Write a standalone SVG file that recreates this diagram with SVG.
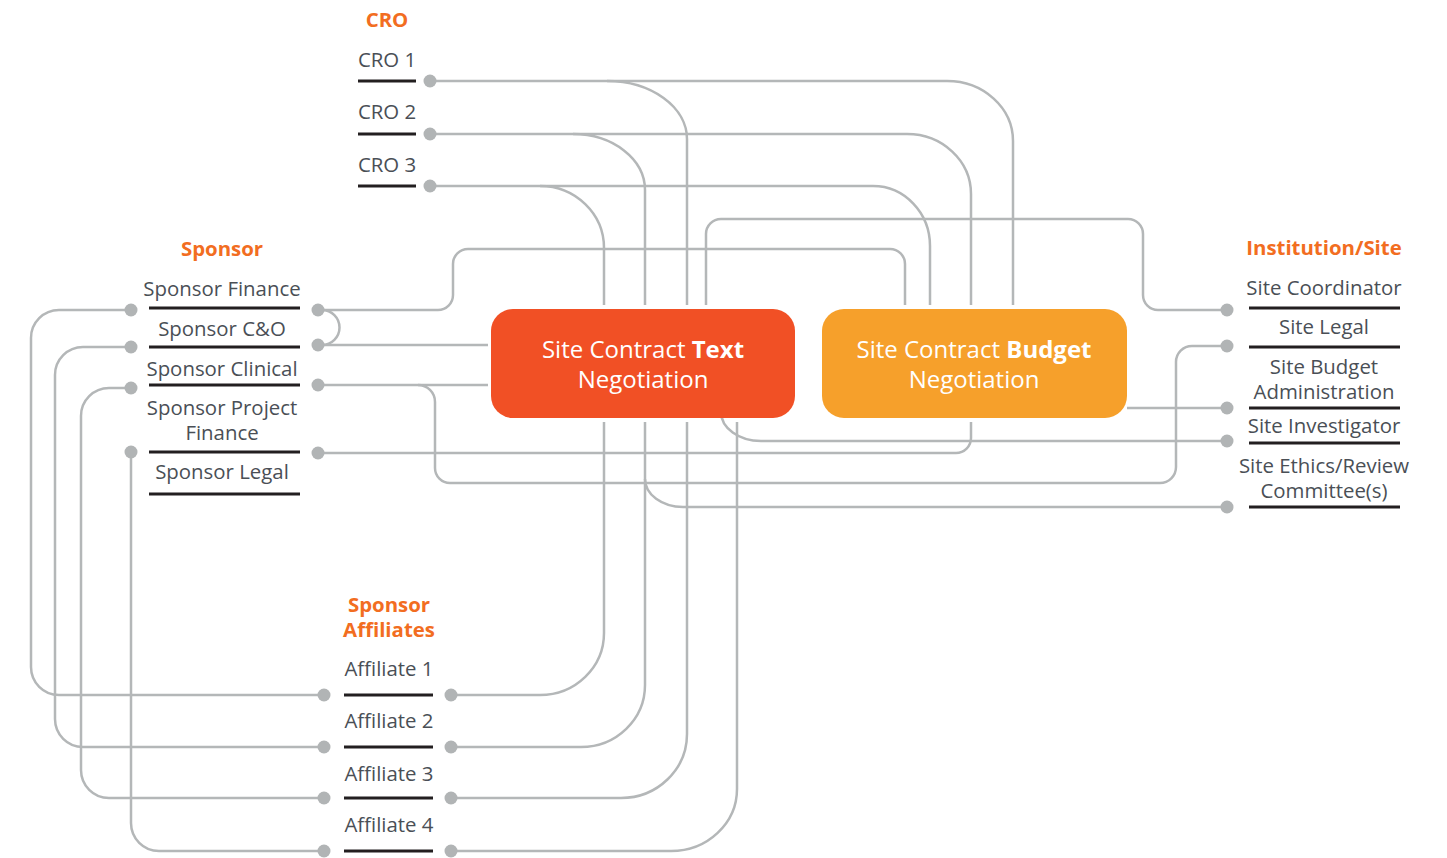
<svg xmlns="http://www.w3.org/2000/svg" width="1447" height="858" viewBox="0 0 1447 858">
<style>
.c{fill:none;stroke:#B4B7B8;stroke-width:2.5}
.d{fill:#B1B4B5}
.u{stroke:#231F20;stroke-width:3}
.t{font-family:"Open Sans","Liberation Sans",sans-serif;font-size:20.4px;fill:#4A4F56;text-anchor:middle}
.h{font-family:"Open Sans","Liberation Sans",sans-serif;font-size:20.4px;font-weight:bold;fill:#F26D21;text-anchor:middle}
.b{font-family:"Open Sans","Liberation Sans",sans-serif;font-size:24px;fill:#FFFFFF;text-anchor:middle}
</style>
<rect width="1447" height="858" fill="#FFFFFF"/>
<g id="connectors">
<path class="c" d="M430,81 H947 A66,60 0 0 1 1013,141 V305"/>
<path class="c" d="M607,81 A80,58 0 0 1 687,139 V305"/>
<path class="c" d="M430,134 H907 A64,60 0 0 1 971,194 V305"/>
<path class="c" d="M573,134 A72,56 0 0 1 645,190 V305"/>
<path class="c" d="M430,186 H873 A57,60 0 0 1 930,246 V305"/>
<path class="c" d="M540,186 A64,62 0 0 1 604,248 V305"/>
<path class="c" d="M706,305 V234 A15,15 0 0 1 721,219 H1128 A15,15 0 0 1 1143,234 V295 A15,15 0 0 0 1158,310 H1227"/>
<path class="c" d="M318,310 H438 A15,15 0 0 0 453,295 V264 A15,15 0 0 1 468,249 H890 A15,15 0 0 1 905,264 V305"/>
<path class="c" d="M318,310 H322 A17.5,17.5 0 0 1 322,345"/>
<path class="c" d="M318,345 H488"/>
<path class="c" d="M318,385 H488"/>
<path class="c" d="M418,385 A17,17 0 0 1 435,402 V468 A15,15 0 0 0 450,483 H1160 A16,16 0 0 0 1176,467 V362 A16,16 0 0 1 1192,346 H1227"/>
<path class="c" d="M971,422 V438 A15,15 0 0 1 956,453 H318"/>
<path class="c" d="M721,412 A40,29 0 0 0 761,441 H1227"/>
<path class="c" d="M1127,408 H1227"/>
<path class="c" d="M645,479 A38,28 0 0 0 683,507 H1227"/>
<path class="c" d="M451,695 H540 A64,62 0 0 0 604,633 V422"/>
<path class="c" d="M451,747 H581 A64,62 0 0 0 645,685 V422"/>
<path class="c" d="M451,798 H621 A66,64 0 0 0 687,734 V422"/>
<path class="c" d="M451,851 H671 A66,62 0 0 0 737,789 V422"/>
<path class="c" d="M131,310 H59 A28,28 0 0 0 31,338 V667 A28,28 0 0 0 59,695 H324"/>
<path class="c" d="M131,347 H83 A28,28 0 0 0 55,375 V719 A28,28 0 0 0 83,747 H324"/>
<path class="c" d="M131,388 H109 A28,28 0 0 0 81,416 V770 A28,28 0 0 0 109,798 H324"/>
<path class="c" d="M131,452 V823 A28,28 0 0 0 159,851 H324"/>
</g>
<g id="text-negotiation">
<rect x="491" y="309" width="304" height="109" rx="22" fill="#F15025"/>
<text class="b" x="643" y="358">Site Contract <tspan font-weight="bold">Text</tspan></text>
<text class="b" x="643" y="388">Negotiation</text>
</g>
<g id="budget-negotiation">
<rect x="822" y="309" width="305" height="109" rx="22" fill="#F6A02B"/>
<text class="b" x="974" y="358">Site Contract <tspan font-weight="bold">Budget</tspan></text>
<text class="b" x="974" y="388">Negotiation</text>
</g>
<g id="cro">
<text class="h" x="387" y="27">CRO</text>
<text class="t" x="387" y="67">CRO 1</text>
<line class="u" x1="358" y1="81" x2="416" y2="81"/>
<circle class="d" cx="430" cy="81" r="6.5"/>
<text class="t" x="387" y="119">CRO 2</text>
<line class="u" x1="358" y1="134" x2="416" y2="134"/>
<circle class="d" cx="430" cy="134" r="6.5"/>
<text class="t" x="387" y="172">CRO 3</text>
<line class="u" x1="358" y1="186" x2="416" y2="186"/>
<circle class="d" cx="430" cy="186" r="6.5"/>
</g>
<g id="sponsor">
<text class="h" x="222" y="256">Sponsor</text>
<text class="t" x="222" y="296">Sponsor Finance</text>
<line class="u" x1="149" y1="308" x2="300" y2="308"/>
<text class="t" x="222" y="336">Sponsor C&amp;O</text>
<line class="u" x1="149" y1="347" x2="300" y2="347"/>
<text class="t" x="222" y="376">Sponsor Clinical</text>
<line class="u" x1="149" y1="385" x2="300" y2="385"/>
<text class="t" x="222" y="415">Sponsor Project</text>
<text class="t" x="222" y="440">Finance</text>
<line class="u" x1="149" y1="452" x2="300" y2="452"/>
<text class="t" x="222" y="479">Sponsor Legal</text>
<line class="u" x1="149" y1="494" x2="300" y2="494"/>
<circle class="d" cx="131" cy="310" r="6.5"/>
<circle class="d" cx="131" cy="347" r="6.5"/>
<circle class="d" cx="131" cy="388" r="6.5"/>
<circle class="d" cx="131" cy="452" r="6.5"/>
<circle class="d" cx="318" cy="310" r="6.5"/>
<circle class="d" cx="318" cy="345" r="6.5"/>
<circle class="d" cx="318" cy="385" r="6.5"/>
<circle class="d" cx="318" cy="453" r="6.5"/>
</g>
<g id="institution-site">
<text class="h" x="1324" y="255">Institution/Site</text>
<text class="t" x="1324" y="295">Site Coordinator</text>
<line class="u" x1="1249" y1="308" x2="1400" y2="308"/>
<text class="t" x="1324" y="334">Site Legal</text>
<line class="u" x1="1249" y1="347" x2="1400" y2="347"/>
<text class="t" x="1324" y="374">Site Budget</text>
<text class="t" x="1324" y="399">Administration</text>
<line class="u" x1="1249" y1="408" x2="1400" y2="408"/>
<text class="t" x="1324" y="433">Site Investigator</text>
<line class="u" x1="1249" y1="443" x2="1400" y2="443"/>
<text class="t" x="1324" y="473">Site Ethics/Review</text>
<text class="t" x="1324" y="498">Committee(s)</text>
<line class="u" x1="1249" y1="507" x2="1400" y2="507"/>
<circle class="d" cx="1227" cy="310" r="6.5"/>
<circle class="d" cx="1227" cy="346" r="6.5"/>
<circle class="d" cx="1227" cy="408" r="6.5"/>
<circle class="d" cx="1227" cy="441" r="6.5"/>
<circle class="d" cx="1227" cy="507" r="6.5"/>
</g>
<g id="sponsor-affiliates">
<text class="h" x="389" y="612">Sponsor</text>
<text class="h" x="389" y="637">Affiliates</text>
<text class="t" x="389" y="676">Affiliate 1</text>
<line class="u" x1="344" y1="695" x2="433" y2="695"/>
<text class="t" x="389" y="728">Affiliate 2</text>
<line class="u" x1="344" y1="747" x2="433" y2="747"/>
<text class="t" x="389" y="781">Affiliate 3</text>
<line class="u" x1="344" y1="798" x2="433" y2="798"/>
<text class="t" x="389" y="832">Affiliate 4</text>
<line class="u" x1="344" y1="851" x2="433" y2="851"/>
<circle class="d" cx="324" cy="695" r="6.5"/>
<circle class="d" cx="324" cy="747" r="6.5"/>
<circle class="d" cx="324" cy="798" r="6.5"/>
<circle class="d" cx="324" cy="851" r="6.5"/>
<circle class="d" cx="451" cy="695" r="6.5"/>
<circle class="d" cx="451" cy="747" r="6.5"/>
<circle class="d" cx="451" cy="798" r="6.5"/>
<circle class="d" cx="451" cy="851" r="6.5"/>
</g>
</svg>
